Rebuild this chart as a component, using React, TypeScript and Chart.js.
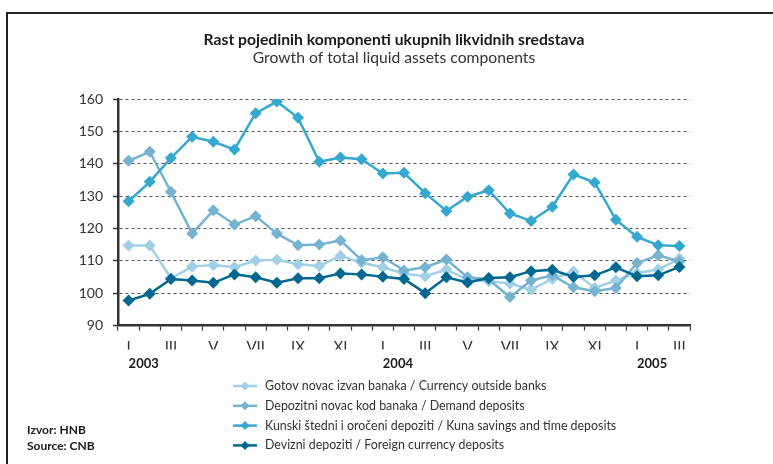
import React, { useEffect, useRef } from "react";
import { Chart, registerables } from "chart.js";

Chart.register(...registerables);

const months = [
  "I", "II", "III", "IV", "V", "VI", "VII", "VIII", "IX", "X", "XI", "XII",
  "I", "II", "III", "IV", "V", "VI", "VII", "VIII", "IX", "X", "XI", "XII",
  "I", "II", "III",
];
const years = [
  "2003", "", "", "", "", "", "", "", "", "", "", "",
  "2004", "", "", "", "", "", "", "", "", "", "", "",
  "2005", "", "",
];

const currencyOutsideBanks = [
  114.7, 114.7, 104.6, 108.2, 108.7, 108.0, 110.1, 110.3, 108.9, 108.4, 111.5, 109.4,
  108.0, 106.0, 105.2, 107.3, 104.2, 103.7, 103.0, 101.1, 104.4, 106.7, 101.6, 103.9,
  106.2, 107.3, 110.7,
];
const demandDeposits = [
  140.9, 143.7, 131.3, 118.4, 125.6, 121.2, 123.8, 118.4, 114.8, 115.0, 116.3, 110.2,
  111.1, 107.0, 108.0, 110.4, 104.9, 104.2, 98.8, 103.9, 105.5, 101.8, 100.6, 101.6,
  109.3, 111.7, 109.8,
];
const kunaSavings = [
  128.4, 134.4, 141.8, 148.3, 146.8, 144.4, 155.6, 159.2, 154.2, 140.6, 141.9, 141.4,
  137.0, 137.2, 130.9, 125.4, 129.8, 131.8, 124.6, 122.3, 126.7, 136.7, 134.2, 122.7,
  117.4, 114.8, 114.6,
];
const foreignCurrency = [
  97.7, 99.8, 104.4, 103.9, 103.2, 105.8, 104.9, 103.2, 104.6, 104.6, 106.1, 105.8,
  105.1, 104.4, 100.0, 104.9, 103.3, 104.7, 104.9, 106.8, 107.2, 105.0, 105.5, 108.0,
  105.2, 105.5, 108.1,
];

const seriesLabels = [
  "Gotov novac izvan banaka / Currency outside banks",
  "Depozitni novac kod banaka / Demand deposits",
  "Kunski štedni i oročeni depoziti / Kuna savings and time deposits",
  "Devizni depoziti / Foreign currency deposits",
];
const seriesColors = ["#a0cfe6", "#76b3d1", "#35a8d0", "#006890"];

const titleText = "Rast pojedinih komponenti ukupnih likvidnih sredstava";
const subtitleText = "Growth of total liquid assets components";
const sourceLines = ["Izvor: HNB", "Source: CNB"];

const FONT = "Lato, 'Open Sans', sans-serif";

const decorPlugin = {
  id: "decor",
  afterDraw(chart: any) {
    const ctx = chart.ctx as CanvasRenderingContext2D;
    ctx.save();
    // frame
    ctx.fillStyle = "#222";
    ctx.fillRect(6, 12, 773, 2);
    ctx.fillRect(6, 12, 2, 464);
    // titles
    ctx.fillStyle = "#1a1a1a";
    ctx.textAlign = "center";
    ctx.textBaseline = "middle";
    ctx.font = `bold 15.7px ${FONT}`;
    ctx.fillText(titleText, 394, 40);
    ctx.fillStyle = "#333";
    ctx.font = `15.7px ${FONT}`;
    ctx.fillText(subtitleText, 394, 58);
    // legend
    const dsets = chart.data.datasets;
    ctx.textAlign = "left";
    ctx.font = `12.4px ${FONT}`;
    for (let i = 0; i < dsets.length; i++) {
      const y = 386 + i * 19.8;
      const c = dsets[i].borderColor;
      ctx.strokeStyle = c;
      ctx.lineWidth = 2.5;
      ctx.beginPath();
      ctx.moveTo(233, y);
      ctx.lineTo(257, y);
      ctx.stroke();
      ctx.fillStyle = c;
      ctx.beginPath();
      ctx.moveTo(245, y - 4.5);
      ctx.lineTo(249.5, y);
      ctx.lineTo(245, y + 4.5);
      ctx.lineTo(240.5, y);
      ctx.closePath();
      ctx.fill();
      ctx.fillStyle = "#333";
      ctx.fillText(dsets[i].label, 265, y);
    }
    // source
    ctx.fillStyle = "#1a1a1a";
    ctx.font = `bold 12px ${FONT}`;
    ctx.fillText(sourceLines[0], 27, 430);
    ctx.fillText(sourceLines[1], 27, 446);
    ctx.restore();
  },
};

export default function App() {
  const ref = useRef<HTMLCanvasElement | null>(null);
  useEffect(() => {
    if (!ref.current) return;
    const mk = (data: number[], i: number, order: number) => ({
      label: seriesLabels[i],
      data,
      borderColor: seriesColors[i],
      backgroundColor: seriesColors[i],
      borderWidth: 2.5,
      pointStyle: "rectRot",
      pointRadius: 6,
      pointBorderWidth: 0,
      pointBackgroundColor: seriesColors[i],
      tension: 0,
      order,
    });
    const chart = new Chart(ref.current, {
      type: "line",
      data: {
        labels: months.map((m, i) => `${m} ${i}`),
        datasets: [
          mk(currencyOutsideBanks, 0, 3),
          mk(demandDeposits, 1, 2),
          mk(kunaSavings, 2, 1),
          mk(foreignCurrency, 3, 0),
        ],
      },
      options: {
        responsive: false,
        animation: false,
        devicePixelRatio: 1,
        layout: { padding: { top: 99, right: 83, bottom: 94.5, left: 0 } },
        plugins: {
          legend: { display: false },
          tooltip: { enabled: false },
          title: { display: false },
        },
        scales: {
          y: {
            min: 90,
            max: 160,
            ticks: {
              stepSize: 10,
              color: "#333",
              font: { family: FONT, size: 14 },
              padding: 10,
            },
            grid: {
              color: "#555",
              lineWidth: 1,
              tickLength: 5,
              tickColor: "#333",
              tickWidth: 1.5,
            },
            border: { display: true, color: "#333", width: 2.5, dash: [3, 3] },
            afterFit: (s: any) => {
              s.width = 118;
            },
          },
          x: {
            type: "category",
            offset: true,
            grid: {
              offset: true,
              drawOnChartArea: false,
              drawTicks: true,
              tickLength: 5,
              tickColor: "#333",
              tickWidth: 1.2,
            },
            border: { display: true, color: "#333", width: 2.5 },
            ticks: {
              autoSkip: false,
              maxRotation: 0,
              padding: 8,
              color: "#333",
              font: { family: FONT, size: 15 },
              callback: (_v: any, i: number) => (i % 2 === 0 ? months[i] : ""),
            },
            afterFit: (s: any) => {
              s.height = 24;
            },
          },
          x2: {
            type: "category",
            position: "bottom",
            offset: true,
            grid: { display: false, drawTicks: false },
            border: { display: false },
            ticks: {
              autoSkip: false,
              maxRotation: 0,
              align: "start",
              padding: 7,
              color: "#1a1a1a",
              font: { family: FONT, size: 13, weight: "bold" },
              callback: (_v: any, i: number) => years[i],
            },
            afterFit: (s: any) => {
              s.height = 20;
            },
          },
        },
      } as any,
      plugins: [decorPlugin],
    });
    return () => chart.destroy();
  }, []);
  return (
    <div style={{ position: "absolute", left: 0, top: 0, width: 773, height: 464, background: "#fff" }}>
      <canvas ref={ref} width={773} height={464} style={{ display: "block" }} />
    </div>
  );
}
